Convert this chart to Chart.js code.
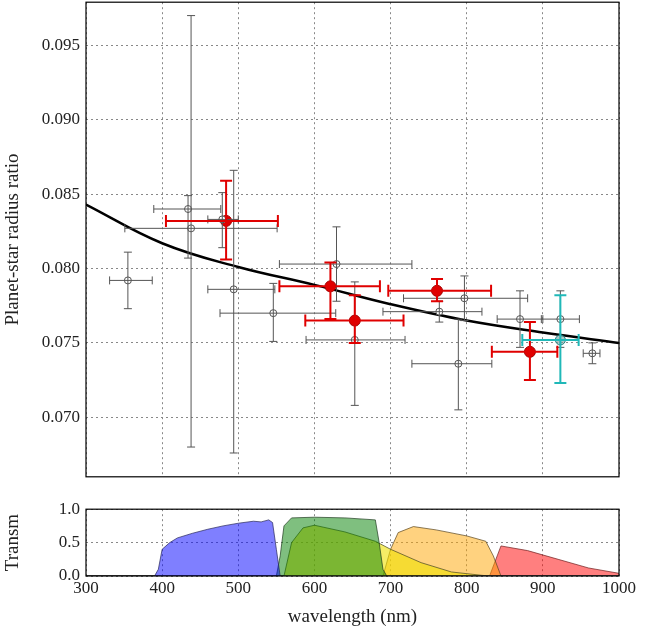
<!DOCTYPE html>
<html>
<head>
<meta charset="utf-8">
<script src="https://cdn.jsdelivr.net/npm/chart.js@4.4.0/dist/chart.umd.min.js"></script>
<style>
body { margin: 0; background: #fff; overflow: hidden; }
#wrap { position: relative; width: 657px; height: 630px; overflow: hidden; }
#top { position: absolute; left: 0; top: -14px; }
#bot { position: absolute; left: 0; top: 493px; }
</style>
</head>
<body>
<div id="wrap">
<canvas id="top" width="657" height="507"></canvas>
<canvas id="bot" width="657" height="137"></canvas>
</div>
<script>
// gray (literature) points
const grayX   = [355, 434, 438, 479, 494, 546, 629, 653, 764, 797, 789, 870, 923, 965];
const grayY   = [0.0792, 0.0840, 0.0827, 0.0833, 0.0786, 0.0770, 0.0803, 0.0752, 0.0771, 0.0780, 0.0736, 0.0766, 0.0766, 0.0743];
const grayXlo = [331, 389, 351, 460, 460, 476, 554, 589, 690, 717, 728, 840, 898, 953];
const grayXhi = [387, 477, 551, 500, 548, 628, 728, 719, 820, 880, 833, 900, 948, 975];
const grayYlo = [0.0773, 0.0807, 0.0680, 0.0814, 0.0676, 0.0751, 0.0778, 0.0708, 0.0764, 0.0765, 0.0705, 0.0747, 0.0747, 0.0736];
const grayYhi = [0.0811, 0.0849, 0.0970, 0.0851, 0.0866, 0.0790, 0.0828, 0.0791, 0.0778, 0.0795, 0.0766, 0.0785, 0.0785, 0.0750];

// red (this work) points
const redX   = [484, 621, 653, 761, 883];
const redY   = [0.0832, 0.0788, 0.0765, 0.0785, 0.0744];
const redXlo = [405, 554, 588, 697, 833];
const redXhi = [552, 686, 717, 832, 919];
const redYlo = [0.0806, 0.0766, 0.0750, 0.0778, 0.0725];
const redYhi = [0.0859, 0.0804, 0.0782, 0.0793, 0.0764];

// teal point
const tealX = [923], tealY = [0.0752];
const tealXlo = [873], tealXhi = [947], tealYlo = [0.0723], tealYhi = [0.0782];

// model curve
const modelX = [300, 400, 500, 600, 700, 800, 900, 1000];
const modelY = [0.0843, 0.0817, 0.0801, 0.0789, 0.0776, 0.0765, 0.0757, 0.0750];

const yTicks = [0.070, 0.075, 0.080, 0.085, 0.090, 0.095];

// filter transmission curves
const blueX = [300, 390, 395, 400, 410, 420, 440, 460, 480, 500, 520, 530, 540, 545, 550, 555, 1000];
const blueY = [0, 0, 0.1, 0.4, 0.5, 0.57, 0.64, 0.7, 0.75, 0.79, 0.82, 0.81, 0.84, 0.8, 0.4, 0, 0];
const greenX = [300, 550, 555, 560, 570, 600, 640, 680, 685, 690, 695, 1000];
const greenY = [0, 0, 0.3, 0.75, 0.87, 0.88, 0.87, 0.84, 0.5, 0.1, 0, 0];
const yellowX = [300, 560, 570, 585, 600, 640, 680, 700, 740, 780, 820, 830, 1000];
const yellowY = [0, 0, 0.5, 0.72, 0.76, 0.66, 0.52, 0.4, 0.2, 0.06, 0.01, 0, 0];
const orangeX = [300, 690, 700, 710, 730, 760, 800, 825, 835, 845, 1000];
const orangeY = [0, 0, 0.4, 0.65, 0.74, 0.69, 0.6, 0.52, 0.3, 0, 0];
const redFX = [300, 830, 840, 845, 880, 920, 960, 1000];
const redFY = [0, 0, 0.3, 0.45, 0.38, 0.25, 0.12, 0.04];

const serif = "'Liberation Serif', 'DejaVu Serif', serif";
Chart.defaults.font.family = serif;
Chart.defaults.color = '#222';

function pts(xs, ys) { return xs.map((x, i) => ({x: x, y: ys[i]})); }

const grid = { color: '#888', lineWidth: 1, drawTicks: false };
const dashed = { display: false, dash: [2, 3] };

const errorBars = {
  id: 'errorBars',
  afterDatasetsDraw(chart) {
    const {ctx, scales: {x, y}} = chart;
    const sets = [
      [grayX, grayY, grayXlo, grayXhi, grayYlo, grayYhi, '#555', 1, 4],
      [redX, redY, redXlo, redXhi, redYlo, redYhi, '#e00000', 2, 6],
      [tealX, tealY, tealXlo, tealXhi, tealYlo, tealYhi, '#20b8b8', 2, 6]
    ];
    ctx.save();
    sets.forEach(s => {
      const [xs, ys, xl, xh, yl, yh, col, lw, cap] = s;
      ctx.strokeStyle = col; ctx.lineWidth = lw;
      xs.forEach((v, i) => {
        const px = x.getPixelForValue(v), py = y.getPixelForValue(ys[i]);
        const x0 = x.getPixelForValue(xl[i]), x1 = x.getPixelForValue(xh[i]);
        const y0 = y.getPixelForValue(yl[i]), y1 = y.getPixelForValue(yh[i]);
        ctx.beginPath();
        ctx.moveTo(x0, py); ctx.lineTo(x1, py);
        ctx.moveTo(px, y0); ctx.lineTo(px, y1);
        ctx.moveTo(x0, py - cap); ctx.lineTo(x0, py + cap);
        ctx.moveTo(x1, py - cap); ctx.lineTo(x1, py + cap);
        ctx.moveTo(px - cap, y0); ctx.lineTo(px + cap, y0);
        ctx.moveTo(px - cap, y1); ctx.lineTo(px + cap, y1);
        ctx.stroke();
      });
    });
    ctx.restore();
  }
};

const frame = {
  id: 'frame',
  afterDraw(chart) {
    const {ctx, chartArea: a} = chart;
    ctx.save();
    ctx.strokeStyle = '#000'; ctx.lineWidth = 1.2;
    ctx.strokeRect(a.left, a.top, a.right - a.left, a.bottom - a.top);
    ctx.restore();
  }
};

new Chart(document.getElementById('top'), {
  type: 'scatter',
  data: {
    datasets: [
      { data: pts(modelX, modelY), showLine: true, borderColor: '#000', borderWidth: 2.5,
        pointRadius: 0, tension: 0.4, order: 5 },
      { data: pts(grayX, grayY), pointRadius: 3.5, backgroundColor: '#fff', borderColor: '#555',
        borderWidth: 1, order: 0 },
      { data: pts(redX, redY), pointRadius: 5.5, backgroundColor: '#e00000', borderColor: '#a00000',
        borderWidth: 1, order: 0 },
      { data: pts(tealX, tealY), pointRadius: 5, backgroundColor: 'rgba(120,160,160,0.6)', borderColor: '#208080',
        borderWidth: 1, order: 0 }
    ]
  },
  options: {
    responsive: false, animation: false, events: [],
    layout: { padding: { top: 2, right: 38, bottom: 4, left: 0 } },
    plugins: { legend: { display: false }, tooltip: { enabled: false } },
    scales: {
      x: { type: 'linear', min: 300, max: 1000, ticks: { stepSize: 100, display: false },
        grid: grid, border: dashed,
        afterFit(s) { s.height = 0; } },
      y: { min: 0.066, max: 0.0979, grid: grid, border: dashed,
        afterBuildTicks(s) { s.ticks = yTicks.map(v => ({value: v})); },
        ticks: { font: { size: 17 }, padding: 6, callback: v => v.toFixed(3) },
        title: { display: true, text: 'Planet-star radius ratio', font: { size: 19 }, padding: 2 },
        afterFit(s) { s.width = 86; } }
    }
  },
  plugins: [errorBars, frame]
});

function band(xs, ys, fill, line) {
  return { data: pts(xs, ys), showLine: true, fill: 'origin', backgroundColor: fill,
    borderColor: line, borderWidth: 1, pointRadius: 0 };
}

new Chart(document.getElementById('bot'), {
  type: 'scatter',
  data: {
    datasets: [
      band(blueX, blueY, 'rgba(0,0,255,0.5)', 'rgba(40,40,90,0.7)'),
      band(greenX, greenY, 'rgba(0,128,0,0.5)', 'rgba(30,60,30,0.7)'),
      band(yellowX, yellowY, 'rgba(240,225,0,0.6)', 'rgba(70,70,30,0.7)'),
      band(orangeX, orangeY, 'rgba(255,165,0,0.5)', 'rgba(90,70,30,0.7)'),
      band(redFX, redFY, 'rgba(255,0,0,0.5)', 'rgba(110,30,30,0.7)')
    ]
  },
  options: {
    responsive: false, animation: false, events: [],
    layout: { padding: { top: 5, right: 38, bottom: 0, left: 0 } },
    plugins: { legend: { display: false }, tooltip: { enabled: false } },
    scales: {
      x: { type: 'linear', min: 300, max: 1000, grid: grid, border: dashed,
        ticks: { stepSize: 100, font: { size: 17 }, padding: 2, maxRotation: 0, callback: v => String(v) },
        title: { display: true, text: 'wavelength (nm)', font: { size: 19 }, padding: 2 },
        afterFit(s) { s.height = 54; } },
      y: { min: 0, max: 1, grid: grid, border: dashed,
        ticks: { stepSize: 0.5, font: { size: 17 }, padding: 6, callback: v => v.toFixed(1) },
        title: { display: true, text: 'Transm', font: { size: 19 }, padding: 2 },
        afterFit(s) { s.width = 86; } }
    }
  },
  plugins: [frame]
});
</script>
</body>
</html>
